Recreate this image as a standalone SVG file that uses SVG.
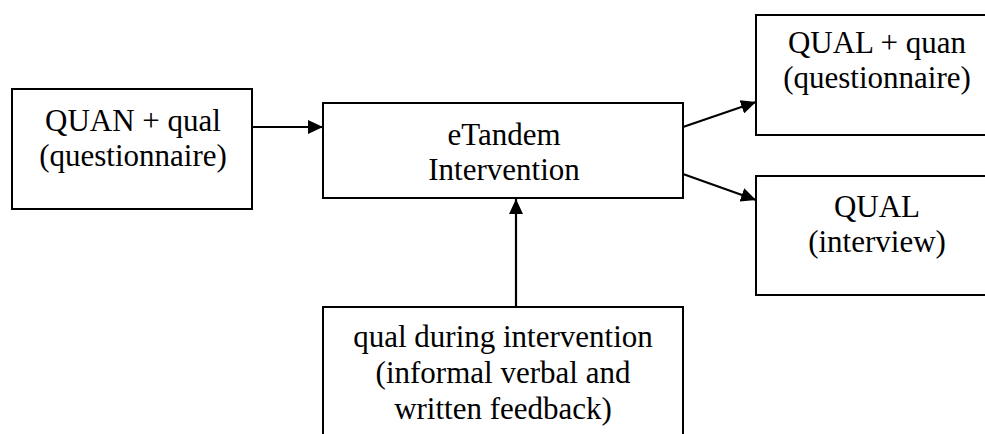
<svg xmlns="http://www.w3.org/2000/svg" width="985" height="434" viewBox="0 0 985 434">
<style>
.box{fill:#fff;stroke:#000;stroke-width:2}
.lbl{font-family:"Liberation Serif","Times New Roman",serif;font-size:31px;fill:#000;text-anchor:middle}
.edge{stroke:#000;stroke-width:2.2;fill:none;marker-end:url(#ah)}
</style>
<defs>
<marker id="ah" markerUnits="userSpaceOnUse" markerWidth="16" markerHeight="14" refX="15" refY="7" orient="auto">
<path d="M0,0 L15,7 L0,14 z" fill="#000"/>
</marker>
</defs>
<rect width="985" height="434" fill="#fff"/>
<g id="connectors">
<line class="edge" x1="252" y1="127" x2="323" y2="127"/>
<line class="edge" x1="683" y1="127" x2="756" y2="102"/>
<line class="edge" x1="683" y1="174" x2="756" y2="200"/>
<line class="edge" x1="516" y1="307" x2="516" y2="199"/>
</g>
<g id="quan-qual">
<rect class="box" x="12" y="89" width="240" height="120"/>
<text class="lbl" x="133" y="131">QUAN + qual</text>
<text class="lbl" x="133" y="166">(questionnaire)</text>
</g>
<g id="etandem">
<rect class="box" x="323" y="103" width="360" height="95"/>
<text class="lbl" x="504" y="145">eTandem</text>
<text class="lbl" x="504" y="180">Intervention</text>
</g>
<g id="qual-quan">
<rect class="box" x="756" y="15" width="240" height="120"/>
<text class="lbl" x="877" y="53">QUAL + quan</text>
<text class="lbl" x="877" y="88">(questionnaire)</text>
</g>
<g id="qual-interview">
<rect class="box" x="756" y="176" width="240" height="119"/>
<text class="lbl" x="877" y="217">QUAL</text>
<text class="lbl" x="877" y="252">(interview)</text>
</g>
<g id="qual-during">
<rect class="box" x="323" y="307" width="360" height="140"/>
<text class="lbl" x="503" y="347">qual during intervention</text>
<text class="lbl" x="503" y="383">(informal verbal and</text>
<text class="lbl" x="503" y="419">written feedback)</text>
</g>
</svg>
